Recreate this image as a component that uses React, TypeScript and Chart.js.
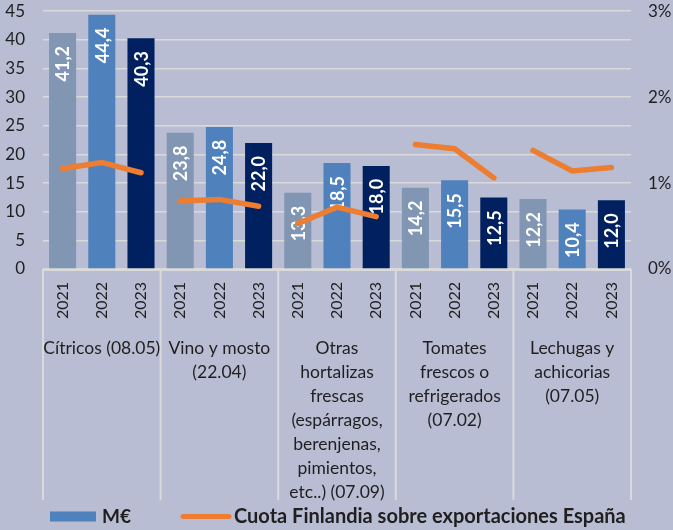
import React, { useEffect, useRef } from "react";
import { Chart, registerables } from "chart.js";

Chart.register(...registerables);

const years = ["2021", "2022", "2023"];
const groupLabels: string[][] = [
  ["Cítricos (08.05)"],
  ["Vino y mosto", "(22.04)"],
  ["Otras", "hortalizas", "frescas", "(espárragos,", "berenjenas,", "pimientos,", "etc..) (07.09)"],
  ["Tomates", "frescos o", "refrigerados", "(07.02)"],
  ["Lechugas y", "achicorias", "(07.05)"],
];
const exportValues = [41.2, 44.4, 40.3, 23.8, 24.8, 22.0, 13.3, 18.5, 18.0, 14.2, 15.5, 12.5, 12.2, 10.4, 12.0];
const shareValues = [1.17, 1.24, 1.12, 0.79, 0.81, 0.73, 0.53, 0.72, 0.61, 1.45, 1.40, 1.06, 1.38, 1.14, 1.18];
const yearColors = ["#8196b2", "#4f81bd", "#002060"];
const lineColor = "#ed7d31";
const legendBar = "M€";
const legendLine = "Cuota Finlandia sobre exportaciones España";

const BG = "#b8bdd3";
const GRID = "#dadada";
const TEXT = "#1f1f1f";
const SHIFT = 17;

const categories: string[] = [];
groupLabels.forEach(() => years.forEach((y) => categories.push(y)));

export default function App() {
  const ref = useRef<HTMLCanvasElement | null>(null);

  useEffect(() => {
    const canvas = ref.current;
    if (!canvas) return;

    const labelPlugin = {
      id: "barLabels",
      afterDatasetDraw(chart: any, args: any) {
        if (args.index !== 0) return;
        const ctx = chart.ctx;
        const meta = chart.getDatasetMeta(0);
        ctx.save();
        ctx.fillStyle = "#ffffff";
        ctx.font = "bold 18px Lato";
        ctx.textAlign = "right";
        ctx.textBaseline = "middle";
        meta.data.forEach((bar: any, i: number) => {
          const txt = exportValues[i].toFixed(1).replace(".", ",");
          ctx.save();
          ctx.translate(bar.x, bar.y + 13);
          ctx.rotate(-Math.PI / 2);
          ctx.fillText(txt, 0, 1);
          ctx.restore();
        });
        ctx.restore();
      },
    };

    const groupPlugin = {
      id: "groups",
      afterDraw(chart: any) {
        const ctx = chart.ctx;
        const x = chart.scales.x;
        const area = chart.chartArea;
        const b = area.bottom;
        const n = categories.length;
        const w = (area.right - area.left) / n;
        ctx.save();
        ctx.strokeStyle = GRID;
        ctx.lineWidth = 2;
        ctx.beginPath();
        ctx.moveTo(area.left, b + 1);
        ctx.lineTo(area.right, b + 1);
        ctx.stroke();
        for (let g = 0; g <= groupLabels.length; g++) {
          const bx = area.left + g * 3 * w;
          ctx.beginPath();
          ctx.moveTo(bx, b);
          ctx.lineTo(bx, b + 231);
          ctx.stroke();
        }
        ctx.fillStyle = TEXT;
        ctx.font = "17.5px Lato";
        ctx.textAlign = "center";
        ctx.textBaseline = "middle";
        groupLabels.forEach((lines, g) => {
          const cx = x.getPixelForValue(g * 3 + 1);
          lines.forEach((ln, k) => {
            ctx.fillText(ln, cx, b + 79 + k * 24);
          });
        });
        // legend
        const ly = b + 247.5;
        ctx.fillStyle = yearColors[1];
        ctx.fillRect(50, ly - 5, 46, 10);
        ctx.fillStyle = TEXT;
        ctx.font = "bold 19px Lato";
        ctx.textAlign = "left";
        ctx.fillText(legendBar, 102, ly);
        ctx.strokeStyle = lineColor;
        ctx.lineWidth = 5;
        ctx.lineCap = "round";
        ctx.beginPath();
        ctx.moveTo(183, ly);
        ctx.lineTo(229, ly);
        ctx.stroke();
        ctx.font = "bold 20px Lato";
        ctx.fillText(legendLine, 234, ly);
        ctx.restore();
      },
    };

    const chart = new Chart(canvas, {
      type: "bar",
      data: {
        labels: categories,
        datasets: [
          {
            type: "bar",
            label: legendBar,
            data: exportValues,
            backgroundColor: exportValues.map((_, i) => yearColors[i % 3]),
            barPercentage: 0.69,
            categoryPercentage: 1,
            yAxisID: "y",
            order: 2,
          } as any,
          {
            type: "line",
            label: legendLine,
            data: shareValues,
            borderColor: lineColor,
            borderWidth: 5.5,
            borderCapStyle: "round",
            pointRadius: 0,
            tension: 0,
            yAxisID: "y1",
            order: 1,
            segment: {
              borderColor: (c: any) => (c.p0DataIndex % 3 === 2 ? "rgba(0,0,0,0)" : lineColor),
            },
          } as any,
        ],
      },
      options: {
        animation: false,
        responsive: false,
        maintainAspectRatio: false,
        layout: { padding: { top: 11, bottom: 30, left: 0, right: 0 } },
        plugins: {
          legend: { display: false },
          tooltip: { enabled: false },
        },
        scales: {
          x: {
            grid: { display: false, drawTicks: false },
            border: { display: false },
            ticks: {
              color: TEXT,
              font: { family: "Lato", size: 16 },
              minRotation: 90,
              maxRotation: 90,
              autoSkip: false,
              padding: 13,
            },
            afterFit: (s: any) => {
              s.height = 530 - 269 - 30;
            },
          },
          y: {
            position: "left",
            min: 0,
            max: 45,
            ticks: {
              stepSize: 5,
              color: TEXT,
              font: { family: "Lato", size: 17 },
              padding: 18,
            },
            grid: { color: GRID, lineWidth: 1.5, drawTicks: false },
            border: { display: false },
            afterFit: (s: any) => {
              s.width = 43;
            },
          },
          y1: {
            position: "right",
            min: 0,
            max: 3,
            ticks: {
              stepSize: 1,
              color: TEXT,
              font: { family: "Lato", size: 17 },
              padding: 17,
              callback: (v: any) => v + "%",
            },
            grid: { display: false, drawTicks: false },
            border: { display: false },
            afterFit: (s: any) => {
              s.width = 42;
            },
          },
        },
      },
      plugins: [labelPlugin, groupPlugin],
    });

    return () => chart.destroy();
  }, []);

  return (
    <div
      style={{
        position: "fixed",
        left: 0,
        top: 0,
        width: 673,
        height: 530,
        background: BG,
        overflow: "hidden",
      }}
    >
      <canvas
        ref={ref}
        width={673}
        height={530 + SHIFT}
        style={{ display: "block", width: 673, height: 530 + SHIFT, marginTop: -SHIFT }}
      />
    </div>
  );
}
